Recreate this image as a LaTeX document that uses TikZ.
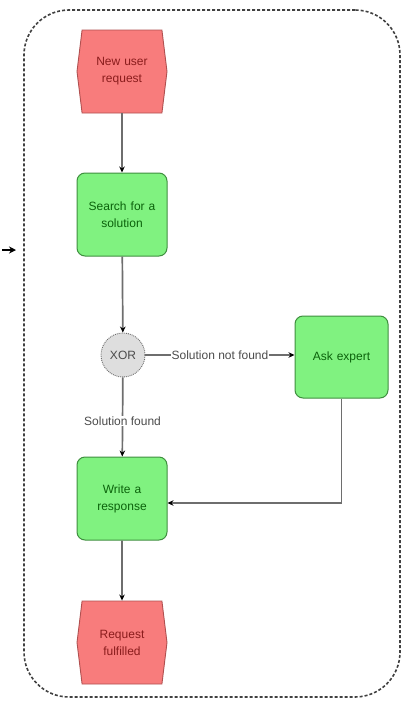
\documentclass[tikz,border=0pt]{standalone}
\usepackage{fontspec}
\setmainfont{Liberation Sans}
\usetikzlibrary{shapes.symbols,arrows.meta}
\definecolor{evfill}{HTML}{F87C7C}
\definecolor{evline}{HTML}{B05050}
\definecolor{evtext}{HTML}{8A1C1C}
\definecolor{fnfill}{HTML}{80F280}
\definecolor{fnline}{HTML}{3F8F3F}
\definecolor{fntext}{HTML}{0B620B}
\definecolor{xorfill}{HTML}{DEDEDE}
\definecolor{wire}{HTML}{6E6E6E}
\begin{document}
\begin{tikzpicture}[x=1pt,y=-1pt,
  every node/.style={font=\fontsize{12}{17}\selectfont, align=center, inner sep=2pt},
  event/.style={shape=signal, signal to=west and east, signal pointer angle=166,
    fill=evfill, draw=evline, line width=0.9pt, text=evtext,
    minimum width=90pt, minimum height=83pt, text width=70pt},
  func/.style={rectangle, rounded corners=8pt, fill=fnfill, draw=fnline, line width=1pt,
    text=fntext, minimum width=90pt, minimum height=83pt, text width=70pt},
  gate/.style={circle, fill=xorfill, draw=wire, line width=0.9pt, densely dotted,
    text=black!70, minimum size=44pt, inner sep=0pt},
  flow/.style={draw=wire, line width=1.7pt, -{Stealth[length=6pt,width=5.5pt,black]}},
  lbl/.style={fill=white, text=black!70, inner sep=1pt},
  frame/.style={draw=black!75, line width=1.6pt, densely dashed, rounded corners=45pt}]
\useasboundingbox (0,0) rectangle (406,704);

% process boundary
\node[frame, minimum width=376pt, minimum height=687pt, inner sep=0pt] (lane) at (212,353.5) {};

% incoming arrow from the left
\coordinate (src) at (2,250);
\coordinate (dst) at (16,250);
\draw[line width=1.6pt, -{Stealth[length=7pt,width=7pt]}] (src) -- (dst);

% events, functions and the XOR connector
\node[event] (req) at (122,71.5) {New user\\request};
\node[func] (search) at (122,214.5) {Search for a\\solution};
\node[gate] (xor) at (123,355) {XOR};
\node[func, minimum width=93pt, minimum height=82pt] (ask) at (341.5,357) {Ask expert};
\node[func] (write) at (122,498.5) {Write a\\response};
\node[event] (done) at (122,642.5) {Request\\fulfilled};

% control flow
\draw[flow] (req) -- (search);
\draw[flow] (search) -- (xor);
\draw[flow] (xor) -- node[lbl] {Solution not found} (ask.west |- xor);
\draw[flow] (xor) -- node[lbl, pos=0.55] {Solution found} (write);
\draw[flow] (ask.south) |- (write.east |- 0,503);
\draw[flow] (write) -- (done);
\end{tikzpicture}
\end{document}
